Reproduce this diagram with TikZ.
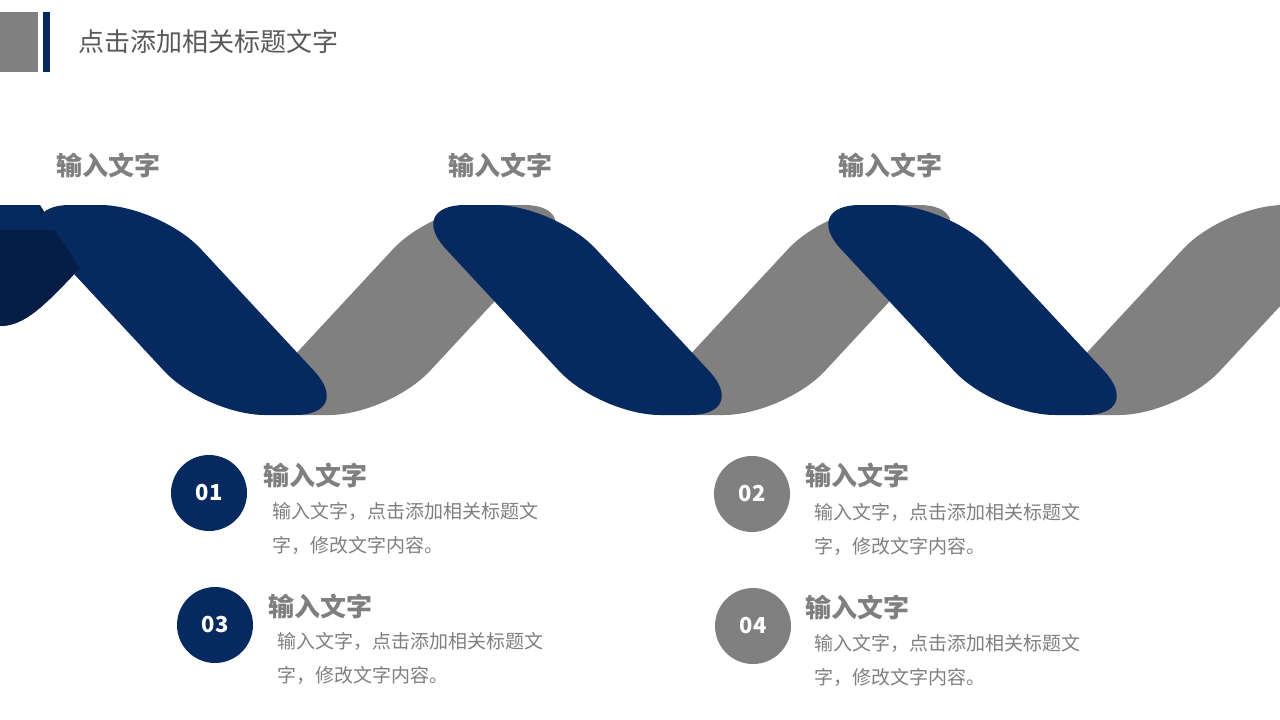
\documentclass[tikz,border=0pt]{standalone}
\usepackage{fontspec}
\setmainfont{Noto Sans CJK SC}
\definecolor{navy}{HTML}{062A5F}
\definecolor{dnavy}{HTML}{061D48}
\definecolor{gr}{HTML}{808080}
\definecolor{tx}{HTML}{7F7F7F}
\begin{document}
\begin{tikzpicture}[x=1pt,y=-1pt,
  head/.style={anchor=west,font=\fontsize{26}{30}\selectfont\bfseries,text=tx,inner sep=0},
  body/.style={anchor=west,font=\fontsize{19}{22}\selectfont,text=tx,inner sep=0},
  num/.style={circle,minimum size=76pt,inner sep=0,text=white,font=\fontsize{22}{26}\selectfont\bfseries}]
\useasboundingbox (0,0) rectangle (1280,720);
\fill[gr] (0,12) rectangle (38,72);
\fill[navy] (43,12) rectangle (50,72);
\node[anchor=west,inner sep=0,text=black!65,font=\fontsize{26}{30}\selectfont] (title) at (78,42) {点击添加相关标题文字};
% dark back piece
\fill[dnavy] (0,205) -- (0,326) .. controls (25,326) and (45,305) .. (80,268) -- (40,205) -- cycle;
% gray bands
\foreach \o in {0,395,790}{
  \fill[gr,rounded corners=60pt] (239+\o,415) -- (389+\o,415) -- (584+\o,205) -- (434+\o,205) -- cycle;
}
% blue bands
\foreach \o in {0,395,790}{
  \fill[navy,rounded corners=60pt] (10+\o,205) -- (160+\o,205) -- (355+\o,415) -- (205+\o,415) -- cycle;
}
\fill[navy] (0,205) rectangle (40,230);
\fill[dnavy] (0,230) -- (0,326) .. controls (25,326) and (45,305) .. (80,268) -- (55,230) -- cycle;
\node[head] (t1) at (56,165) {输入文字};
\node[head] (t2) at (448,165) {输入文字};
\node[head] (t3) at (838,165) {输入文字};
\node[num,fill=navy] (c1) at (209,493) {01};
\node[num,fill=gr] (c2) at (752,494) {02};
\node[num,fill=navy] (c3) at (215,625) {03};
\node[num,fill=gr] (c4) at (753,626) {04};
\node[head] (h1) at (263,475) {输入文字};
\node[body] (b1a) at (272,511) {输入文字，点击添加相关标题文};
\node[body] (b1b) at (272,545) {字，修改文字内容。};
\node[head] (h2) at (805,475) {输入文字};
\node[body] (b2a) at (814,512) {输入文字，点击添加相关标题文};
\node[body] (b2b) at (814,546) {字，修改文字内容。};
\node[head] (h3) at (268,606) {输入文字};
\node[body] (b3a) at (277,641) {输入文字，点击添加相关标题文};
\node[body] (b3b) at (277,675) {字，修改文字内容。};
\node[head] (h4) at (805,607) {输入文字};
\node[body] (b4a) at (814,643) {输入文字，点击添加相关标题文};
\node[body] (b4b) at (814,677) {字，修改文字内容。};
\end{tikzpicture}
\end{document}
